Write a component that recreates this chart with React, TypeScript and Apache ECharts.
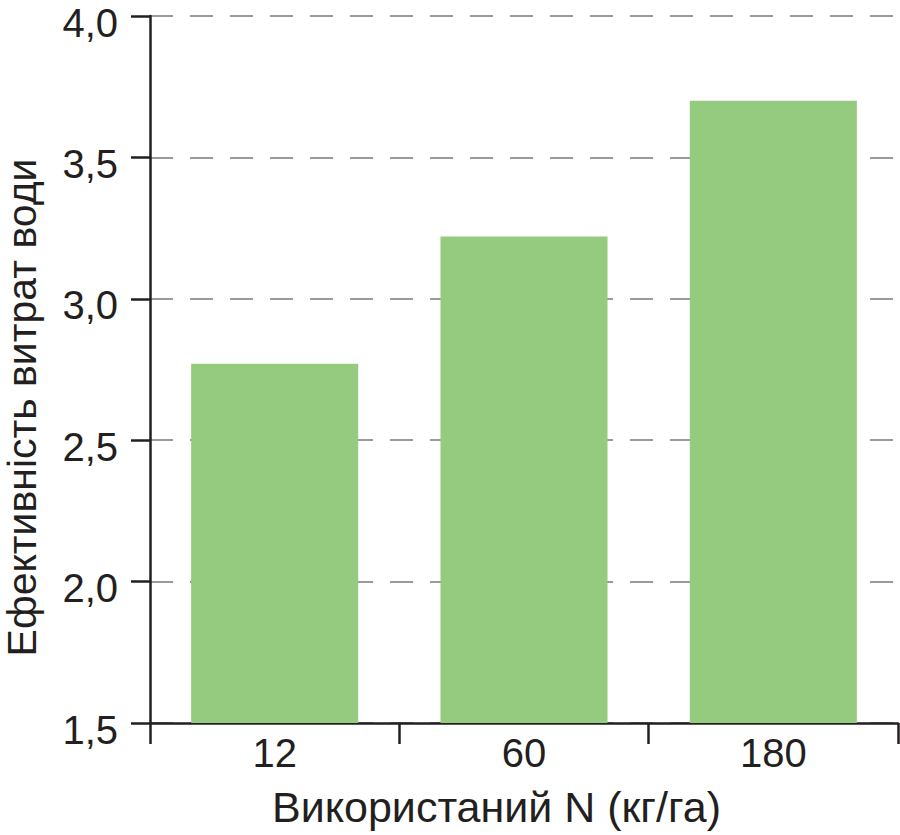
import React, { useEffect, useRef } from "react";
import * as echarts from "echarts";

const categories = ["12", "60", "180"];
const efficiency = [2.77, 3.22, 3.7];
const yTicks = { min: 1.5, max: 4.0, interval: 0.5 };
const xTitle = "Використаний N (кг/га)";
const yTitle = "Ефективність витрат води";

const FONT = "'Liberation Sans', Arial, Helvetica, sans-serif";
const INK = "#231f20";

export default function App() {
  const ref = useRef<HTMLDivElement>(null);
  useEffect(() => {
    document.body.style.margin = "0";
    const chart = echarts.init(ref.current!, null, { renderer: "svg" });
    chart.setOption({
      animation: false,
      backgroundColor: "#ffffff",
      textStyle: { fontFamily: FONT },
      grid: {
        left: 150,
        right: 2,
        top: 16,
        bottom: 112,
        containLabel: false,
        outerBoundsMode: "none",
      },
      xAxis: {
        type: "category",
        data: categories,
        boundaryGap: true,
        name: xTitle,
        nameLocation: "middle",
        nameGap: 62,
        nameTextStyle: {
          fontSize: 43,
          color: INK,
          fontFamily: FONT,
          padding: [0, 55, 0, 0],
        },
        axisLine: { show: true, lineStyle: { color: INK, width: 2.5 } },
        axisTick: { show: true, length: 21, alignWithLabel: false, lineStyle: { color: INK, width: 2.5 } },
        axisLabel: { fontSize: 40, color: INK, margin: 10, fontFamily: FONT },
        splitLine: { show: false },
      },
      yAxis: {
        type: "value",
        min: yTicks.min,
        max: yTicks.max,
        interval: yTicks.interval,
        name: yTitle,
        nameLocation: "middle",
        nameGap: 108,
        nameTextStyle: {
          fontSize: 41,
          color: INK,
          fontFamily: FONT,
          padding: [0, 76, 0, 0],
        },
        axisLine: { show: true, lineStyle: { color: INK, width: 2.5 } },
        axisTick: { show: true, length: 19, lineStyle: { color: INK, width: 2.5 } },
        axisLabel: {
          fontSize: 40,
          lineHeight: 13,
          verticalAlign: "top",
          color: INK,
          margin: 32,
          fontFamily: FONT,
          formatter: (v: number) => v.toFixed(1).replace(".", ","),
        },
        splitLine: {
          show: true,
          lineStyle: { color: "#9a9a9a", width: 2, type: [23, 17] },
        },
      },
      series: [
        {
          type: "bar",
          data: efficiency,
          barWidth: "67%",
          itemStyle: { color: "#94cb7f" },
        },
      ],
    });
    return () => chart.dispose();
  }, []);
  return <div ref={ref} style={{ width: 900, height: 835 }} />;
}
